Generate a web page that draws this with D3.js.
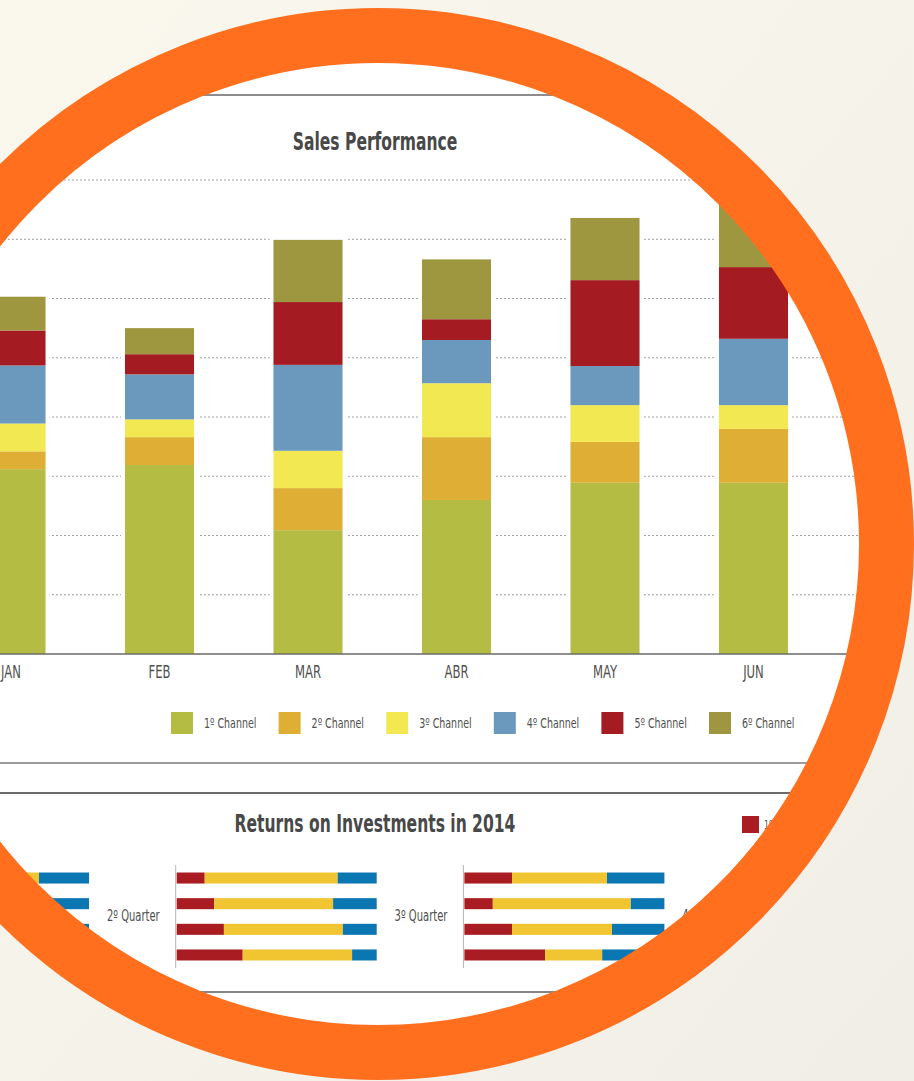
<!DOCTYPE html>
<html>
<head>
<meta charset="utf-8">
<script src="https://cdn.jsdelivr.net/npm/d3@7"></script>
<style>
  body { margin: 0; background: #f6f3eb; }
  svg { display: block; }
  text { font-family: "DejaVu Sans Condensed", "DejaVu Sans", sans-serif; }
</style>
</head>
<body>
<svg id="chart"></svg>
<script>
// sales performance, stacked by channel (units of 10 = one gridline)
let months = ["JAN", "FEB", "MAR", "ABR", "MAY", "JUN"];
let channels = ["1º Channel", "2º Channel", "3º Channel", "4º Channel", "5º Channel", "6º Channel"];
let channel1 = [31.2, 31.9, 20.9, 26.0, 28.9, 28.9];
let channel2 = [3.0, 4.7, 7.1, 10.6, 6.9, 9.1];
let channel3 = [4.7, 3.0, 6.3, 9.1, 6.2, 4.0];
let channel4 = [9.8, 7.6, 14.5, 7.3, 6.6, 11.2];
let channel5 = [5.9, 3.4, 10.6, 3.5, 14.5, 12.1];
let channel6 = [5.7, 4.4, 10.5, 10.1, 10.5, 12.0];
let gridTicks = [10, 20, 30, 40, 50, 60, 70, 80];

// returns on investments, share per row (%) for each quarter
let quarters = ["1º Quarter", "2º Quarter", "3º Quarter", "4º Quarter"];
let roiSeries = ["1º Year", "2º Year", "3º Year"];
let roiRed = [[20, 22, 18, 30], [14, 18.7, 23.6, 33], [23.8, 14.2, 23.8, 40.3], [20, 25, 18, 30]];
let roiYellow = [[55, 58, 60, 52], [66.5, 59.5, 59.5, 54.7], [47.5, 69, 50, 28.6], [55, 50, 60, 45]];
let roiBlue = [[25, 20, 22, 18], [19.5, 21.8, 16.9, 12.3], [28.7, 16.8, 26.2, 31.1], [25, 25, 22, 25]];

let W = 914, H = 1081;
let cx = 378, cy = 544, rInner = 481, rOuter = 536;

let chColors = ["#b4bc43", "#deaf34", "#f2e851", "#6b99bd", "#a51b22", "#9f973f"];
let roiColors = ["#a81c22", "#f1c432", "#0a77b3"];

// squeeze text horizontally, the original uses a condensed face
let condense = function(sel, k){
    sel.each(function(){
        let w = this.getComputedTextLength();
        d3.select(this)
            .attr("textLength", w * k)
            .attr("lengthAdjust", "spacingAndGlyphs");
    });
};

let svg = d3.select("#chart").attr("width", W).attr("height", H);

let defs = svg.append("defs");
let bgGrad = defs.append("linearGradient").attr("id", "paper")
    .attr("x1", "0").attr("y1", "0").attr("x2", "1").attr("y2", "1");
bgGrad.append("stop").attr("offset", "0").attr("stop-color", "#faf7ed");
bgGrad.append("stop").attr("offset", "1").attr("stop-color", "#f1eee7");
defs.append("clipPath").attr("id", "lens")
    .append("circle").attr("cx", cx).attr("cy", cy).attr("r", rInner + 3);

svg.append("rect").attr("width", W).attr("height", H).attr("fill", "url(#paper)");

let g = svg.append("g").attr("clip-path", "url(#lens)");
g.append("rect").attr("width", W).attr("height", H).attr("fill", "#fff");

// ---------- top panel ----------
let panelLine = function(y, color, w){
    g.append("line")
        .attr("x1", -200).attr("x2", W + 200)
        .attr("y1", y).attr("y2", y)
        .attr("stroke", color).attr("stroke-width", w);
};
panelLine(95, "#8c8c8c", 2);

g.append("text")
    .attr("x", 375).attr("y", 150)
    .attr("text-anchor", "middle")
    .attr("font-size", 24).attr("font-weight", "bold")
    .attr("fill", "#484848")
    .text("Sales Performance")
    .call(condense, 0.72);

let x = d3.scaleBand()
    .domain(months)
    .range([-63.25, -63.25 + 6 * 148.5])
    .paddingInner(0.535)
    .paddingOuter(0.2675);

let y = d3.scaleLinear().domain([0, 80]).range([654, 180]);

g.append("g").selectAll("line")
    .data(gridTicks).enter().append("line")
    .attr("x1", -200).attr("x2", W)
    .attr("y1", d => y(d)).attr("y2", d => y(d))
    .attr("stroke", "#a0a0a0")
    .attr("stroke-dasharray", "2,2");

let rows = months.map((m, i) => ({
    month: m,
    c0: channel1[i], c1: channel2[i], c2: channel3[i],
    c3: channel4[i], c4: channel5[i], c5: channel6[i]
}));
let keys = ["c0", "c1", "c2", "c3", "c4", "c5"];
let stacked = d3.stack().keys(keys)(rows);

// white halo behind each bar breaks the dotted lines
g.append("g").selectAll("rect")
    .data(rows).enter().append("rect")
    .attr("x", d => x(d.month) - 4)
    .attr("width", x.bandwidth() + 8)
    .attr("y", d => y(d3.sum(keys, k => d[k])) - 2)
    .attr("height", d => y(0) - y(d3.sum(keys, k => d[k])) + 2)
    .attr("fill", "#fff");

g.append("g").selectAll("g")
    .data(stacked).enter().append("g")
    .attr("fill", (d, i) => chColors[i])
    .selectAll("rect")
    .data(d => d).enter().append("rect")
    .attr("x", d => x(d.data.month))
    .attr("width", x.bandwidth())
    .attr("y", d => y(d[1]))
    .attr("height", d => y(d[0]) - y(d[1]));

g.append("line")
    .attr("x1", -200).attr("x2", W)
    .attr("y1", y(0)).attr("y2", y(0))
    .attr("stroke", "#6a6a6a").attr("stroke-width", 1.5);

g.append("g").selectAll("text")
    .data(months).enter().append("text")
    .attr("x", d => x(d) + x.bandwidth() / 2)
    .attr("y", 678)
    .attr("text-anchor", "middle")
    .attr("font-size", 17)
    .attr("fill", "#505050")
    .text(d => d)
    .call(condense, 0.76);

// legend
let legX = d3.scaleLinear().domain([0, 5]).range([171, 709]);
let leg = g.append("g").selectAll("g")
    .data(channels).enter().append("g")
    .attr("transform", (d, i) => "translate(" + legX(i) + ",712)");
leg.append("rect")
    .attr("width", 22).attr("height", 22)
    .attr("fill", (d, i) => chColors[i]);
leg.append("text")
    .attr("x", 33).attr("y", 16)
    .attr("font-size", 13.5)
    .attr("fill", "#505050")
    .text(d => d)
    .call(condense, 0.78);

panelLine(763, "#7a7a7a", 1.5);

// ---------- bottom panel ----------
panelLine(793, "#3a3a3a", 1.5);

g.append("text")
    .attr("x", 375).attr("y", 832)
    .attr("text-anchor", "middle")
    .attr("font-size", 24).attr("font-weight", "bold")
    .attr("fill", "#484848")
    .text("Returns on Investments in 2014")
    .call(condense, 0.72);

let roiLeg = g.append("g").selectAll("g")
    .data(roiSeries).enter().append("g")
    .attr("transform", (d, i) => "translate(" + (742 + i * 50) + ",816)");
roiLeg.append("rect")
    .attr("width", 17).attr("height", 17)
    .attr("fill", (d, i) => roiColors[i]);
roiLeg.append("text")
    .attr("x", 22).attr("y", 13)
    .attr("font-size", 12)
    .attr("fill", "#505050")
    .text(d => d)
    .call(condense, 0.72);

let qx = d3.scaleLinear().domain([0, 3]).range([-112, -112 + 3 * 287.7]);
let share = d3.scaleLinear().domain([0, 100]).range([0, 200]);
let rowY = d3.scaleBand()
    .domain([0, 1, 2, 3])
    .range([865.2, 967.8])
    .paddingInner(0.57)
    .paddingOuter(0.285);

quarters.forEach(function(q, qi){
    let qg = g.append("g").attr("transform", "translate(" + qx(qi) + ",0)");

    qg.append("line")
        .attr("x1", 0).attr("x2", 0)
        .attr("y1", 865).attr("y2", 968)
        .attr("stroke", "#b5b5b5");

    qg.append("text")
        .attr("x", -16).attr("y", 921)
        .attr("text-anchor", "end")
        .attr("font-size", 15)
        .attr("fill", "#505050")
        .text(q)
        .call(condense, 0.74);

    let data = [0, 1, 2, 3].map(r => ({
        row: r, s0: roiRed[qi][r], s1: roiYellow[qi][r], s2: roiBlue[qi][r]
    }));
    let st = d3.stack().keys(["s0", "s1", "s2"])(data);

    qg.selectAll("g.series")
        .data(st).enter().append("g")
        .attr("fill", (d, i) => roiColors[i])
        .selectAll("rect")
        .data(d => d).enter().append("rect")
        .attr("x", d => share(d[0]) + 1)
        .attr("width", d => share(d[1]) - share(d[0]))
        .attr("y", d => rowY(d.data.row))
        .attr("height", rowY.bandwidth());
});

panelLine(992, "#5c5c5c", 1.5);

// ---------- orange lens ring ----------
svg.append("circle")
    .attr("cx", cx).attr("cy", cy)
    .attr("r", (rInner + rOuter) / 2)
    .attr("fill", "none")
    .attr("stroke", "#ff6f1d")
    .attr("stroke-width", rOuter - rInner);
</script>
</body>
</html>
